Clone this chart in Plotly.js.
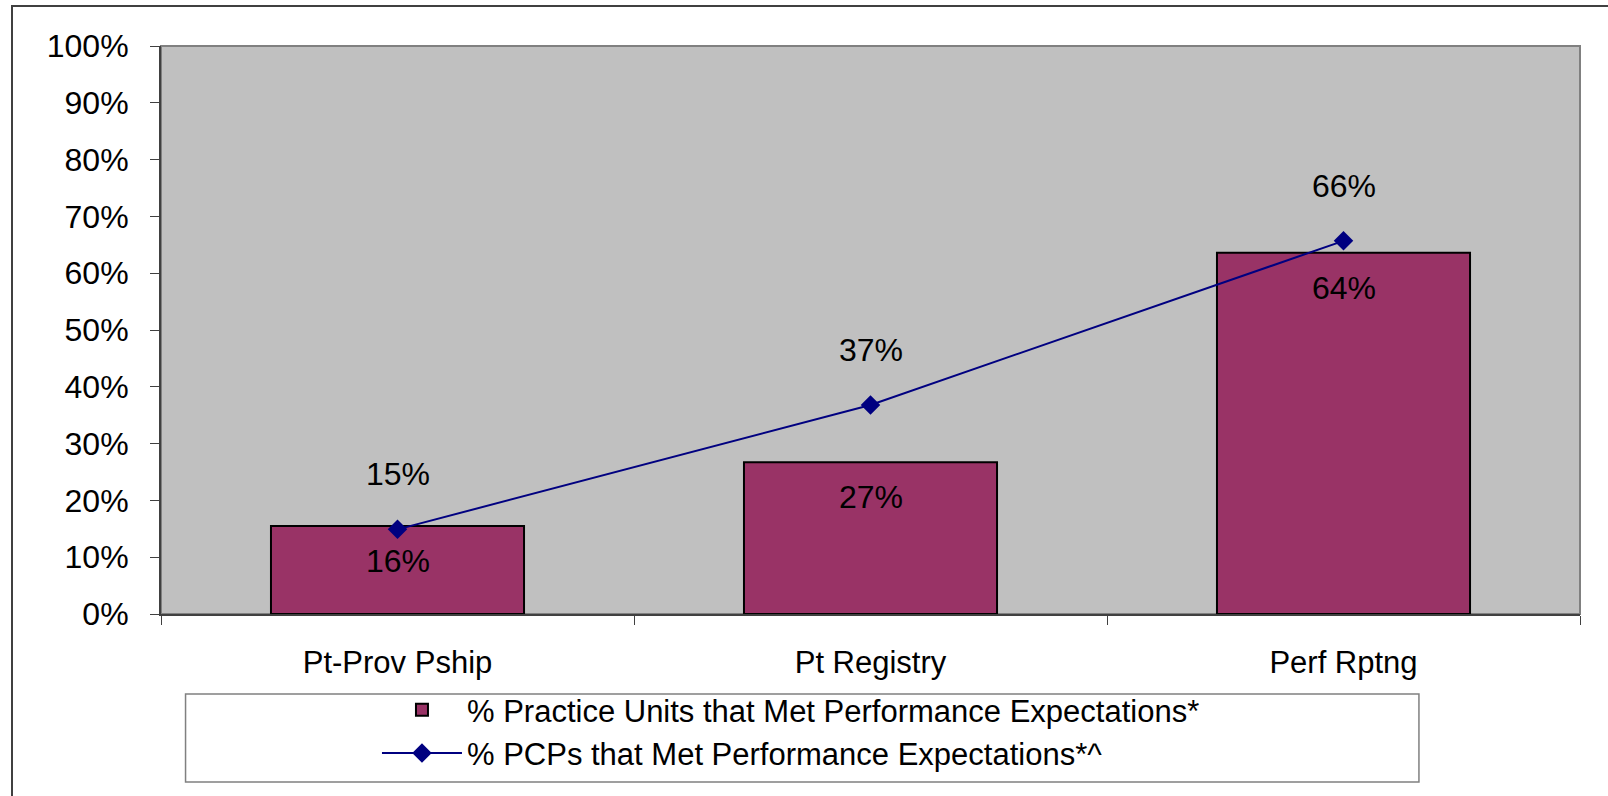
<!DOCTYPE html>
<html>
<head>
<meta charset="utf-8">
<script src="https://cdn.plot.ly/plotly-3.0.1.min.js"></script>
<style>
  html, body { margin: 0; padding: 0; background: #ffffff; }
  #chart { width: 1608px; height: 796px; position: relative; }
  #frame { position: absolute; left: 11px; top: 5px; width: 1640px; height: 840px;
           border-left: 2px solid #404040; border-top: 2px solid #404040; pointer-events: none; }
</style>
</head>
<body>
<div id="chart"></div>
<div id="frame"></div>
<script>
// ---- data ----
const categories = ["Pt-Prov Pship", "Pt Registry", "Perf Rptng"];
const practiceUnitsPct = [15.5, 26.7, 63.6];   // bars
const pcpsPct = [14.9, 36.8, 65.7];            // line
const barSeriesName = "% Practice Units that Met Performance Expectations*";
const lineSeriesName = "% PCPs that Met Performance Expectations*^";
const yTickVals = [0, 10, 20, 30, 40, 50, 60, 70, 80, 90, 100];

const FONT = "Liberation Sans, Arial, sans-serif";

const traces = [
  {
    type: "bar",
    name: barSeriesName,
    x: categories,
    y: practiceUnitsPct,
    marker: { color: "#993366", line: { color: "#000000", width: 2 } },
    hoverinfo: "x+y"
  },
  {
    type: "scatter",
    mode: "lines+markers",
    name: lineSeriesName,
    x: categories,
    y: pcpsPct,
    line: { color: "#000080", width: 2 },
    marker: { symbol: "diamond", size: 15, color: "#000080" },
    hoverinfo: "x+y"
  }
];

const annotations = [];
categories.forEach((c, i) => {
  annotations.push({
    x: c, y: practiceUnitsPct[i], xref: "x", yref: "y",
    text: Math.round(practiceUnitsPct[i]) + "%",
    showarrow: false, yshift: -35,
    font: { family: FONT, size: 32, color: "#000000" }
  });
  annotations.push({
    x: c, y: pcpsPct[i], xref: "x", yref: "y",
    text: Math.round(pcpsPct[i]) + "%",
    showarrow: false, yshift: 55,
    font: { family: FONT, size: 32, color: "#000000" }
  });
});

const layout = {
  width: 1608,
  height: 796,
  margin: { l: 161, r: 28, t: 46, b: 182, pad: 0 },
  paper_bgcolor: "#ffffff",
  plot_bgcolor: "#C0C0C0",
  font: { family: FONT, size: 31, color: "#000000" },
  bargap: 0.465,
  showlegend: true,
  legend: {
    x: 0.1522, xanchor: "left",
    y: -0.1215, yanchor: "top",
    orientation: "v",
    bgcolor: "rgba(0,0,0,0)",
    borderwidth: 0,
    itemwidth: 80,
    font: { family: FONT, size: 31, color: "#000000" },
    traceorder: "normal"
  },
  xaxis: {
    type: "category",
    showgrid: false,
    zeroline: false,
    showline: true,
    linecolor: "#404040",
    linewidth: 2,
    ticks: "outside",
    tickson: "boundaries",
    ticklen: 9,
    tickcolor: "#404040",
    tickwidth: 1,
    ticklabelstandoff: 20,
    tickfont: { family: FONT, size: 31, color: "#000000" },
    automargin: false,
    fixedrange: true
  },
  yaxis: {
    range: [0, 100],
    tickvals: yTickVals,
    ticktext: yTickVals.map(v => v + "%"),
    showgrid: false,
    zeroline: false,
    showline: true,
    linecolor: "#404040",
    linewidth: 2,
    ticks: "outside",
    ticklen: 9,
    tickcolor: "#404040",
    tickwidth: 1,
    ticklabelstandoff: 15,
    tickfont: { family: FONT, size: 32, color: "#000000" },
    automargin: false,
    fixedrange: true
  },
  shapes: [
    // plot-area border (top/right)
    { type: "rect", xref: "paper", yref: "paper", x0: 0, x1: 1, y0: 0, y1: 1,
      line: { color: "#808080", width: 2 }, fillcolor: "rgba(0,0,0,0)", layer: "below" },
    // legend box
    { type: "rect", xref: "paper", yref: "paper", x0: 0.0173, x1: 0.8865, y0: -0.2958, y1: -0.1408,
      line: { color: "#808080", width: 1.5 }, fillcolor: "rgba(0,0,0,0)", layer: "above" }
  ],
  annotations: annotations
};

Plotly.newPlot("chart", traces, layout, { displayModeBar: false, staticPlot: true });
</script>
</body>
</html>
